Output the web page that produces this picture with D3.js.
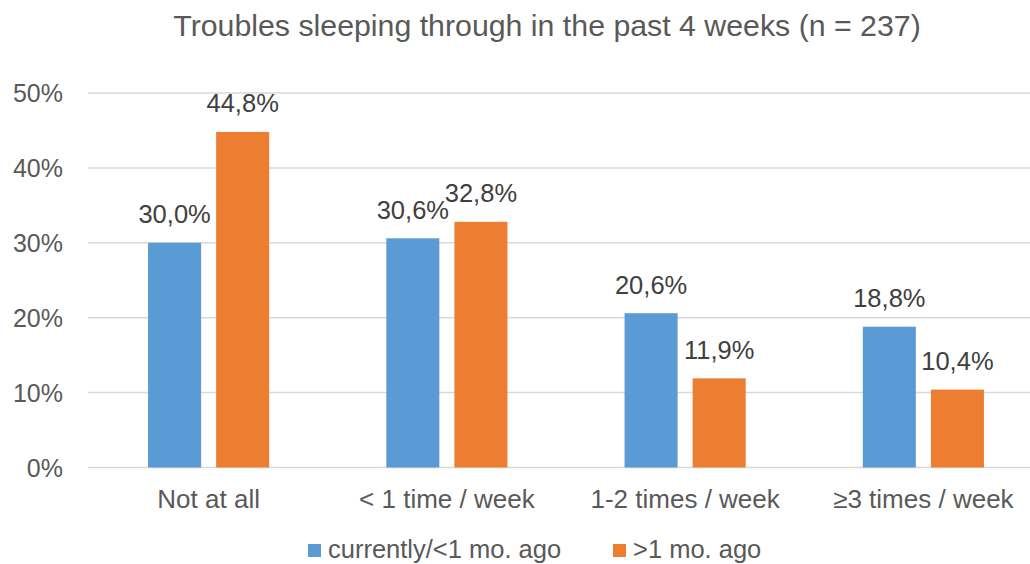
<!DOCTYPE html>
<html><head><meta charset="utf-8">
<script src="https://cdn.jsdelivr.net/npm/d3@7"></script>
<style>
html,body{margin:0;padding:0;background:#fff;}
svg{display:block;font-family:"Liberation Sans",Arial,sans-serif;}
</style></head>
<body>
<svg id="chart" width="1030" height="564"></svg>
<script>
const title = "Troubles sleeping through in the past 4 weeks (n = 237)";
const categories = ["Not at all", "< 1 time / week", "1-2 times / week", "≥3 times / week"];
const seriesNames = ["currently/<1 mo. ago", ">1 mo. ago"];
const seriesCurrent = [30.0, 30.6, 20.6, 18.8];
const seriesPast = [44.8, 32.8, 11.9, 10.4];
const yTicks = [0, 10, 20, 30, 40, 50];
const colors = ["#5B9BD5", "#ED7D31"];

const svg = d3.select("#chart");
const W = 1030, H = 564;
const textColor = "#595959";

const x0 = d3.scaleBand().domain(categories).range([89.5, 1042.5])
  .paddingInner(117/238).paddingOuter(58.5/238).align(0.5);
const x1 = d3.scaleBand().domain(seriesNames).range([0, x0.bandwidth()]).paddingInner(0.221);
const y = d3.scaleLinear().domain([0, 50]).range([467.5, 93]);

const fmtPct = v => d3.format(".1f")(v).replace(".", ",") + "%";

// title
svg.append("text").attr("x", 547).attr("y", 36).attr("text-anchor", "middle")
  .attr("font-size", 30.3).attr("fill", textColor).text(title);

// y axis labels
const yAxis = d3.axisLeft(y).tickValues(yTicks).tickFormat(d => d + "%").tickSize(0).tickPadding(0);
const gy = svg.append("g").attr("transform", "translate(63,0)").call(yAxis);
gy.select(".domain").remove();
gy.selectAll("text").attr("font-size", 25).attr("fill", textColor)
  .attr("font-family", '"Liberation Sans",Arial,sans-serif').attr("dy", "0.35em");

// gridlines
svg.append("g").selectAll("line").data(yTicks).join("line")
  .attr("x1", 88).attr("x2", W).attr("y1", d => y(d)).attr("y2", d => y(d))
  .attr("stroke", "#D9D9D9").attr("stroke-width", 1.5);

// bars
const rows = categories.map((c, i) => ({cat: c, vals: [seriesCurrent[i], seriesPast[i]]}));
const groups = svg.append("g").selectAll("g").data(rows).join("g")
  .attr("transform", d => `translate(${x0(d.cat)},0)`);
groups.selectAll("rect").data(d => d.vals.map((v, j) => ({s: seriesNames[j], v, j}))).join("rect")
  .attr("x", d => x1(d.s)).attr("width", x1.bandwidth())
  .attr("y", d => y(d.v)).attr("height", d => y(0) - y(d.v))
  .attr("fill", d => colors[d.j]);
groups.selectAll("text.lbl").data(d => d.vals.map((v, j) => ({s: seriesNames[j], v, j}))).join("text")
  .attr("class", "lbl")
  .attr("x", d => x1(d.s) + x1.bandwidth()/2).attr("y", d => y(d.v) - 19.5)
  .attr("text-anchor", "middle").attr("font-size", 25.5).attr("fill", "#404040")
  .text(d => fmtPct(d.v));

// x axis labels
const xAxis = d3.axisBottom(x0).tickSize(0).tickPadding(0);
const gx = svg.append("g").attr("transform", "translate(0,508)").call(xAxis);
gx.select(".domain").remove();
gx.selectAll("text").attr("font-size", 26).attr("fill", textColor)
  .attr("font-family", '"Liberation Sans",Arial,sans-serif').attr("dy", 0);

// legend
const legendX = [308, 613];
const lg = svg.append("g").selectAll("g").data(seriesNames).join("g")
  .attr("transform", (d, i) => `translate(${legendX[i]},0)`);
lg.append("rect").attr("x", 0).attr("y", 544).attr("width", 13).attr("height", 13)
  .attr("fill", (d, i) => colors[i]);
lg.append("text").attr("x", 20).attr("y", 558).attr("font-size", 25.5).attr("fill", textColor)
  .text(d => d);
</script>
</body></html>
